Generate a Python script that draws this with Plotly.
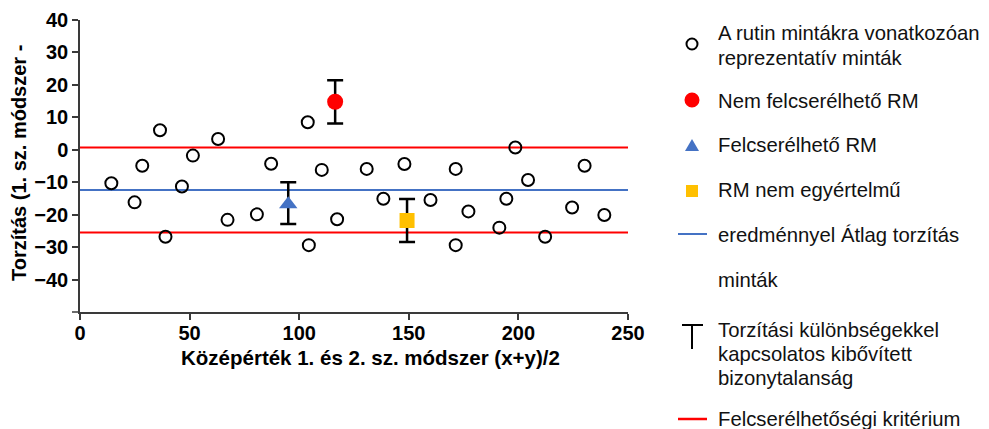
import plotly.graph_objects as go

W, H = 989, 429
OFF = 8  # page body margin of the browser

# ---- data ----
sample_x = [14.3, 24.9, 28.4, 36.5, 39.0, 46.5, 51.5, 63.0, 67.3, 80.7, 87.2, 103.9, 104.4, 110.3, 117.3,
            130.8, 138.4, 148.0, 159.9, 171.4, 171.4, 177.2, 191.3, 194.5, 198.6, 204.4, 212.2, 224.5, 230.2, 239.2]
sample_y = [-10.3, -16.2, -4.9, 6.0, -26.8, -11.3, -1.8, 3.3, -21.6, -19.9, -4.3, 8.5, -29.4, -6.2, -21.4,
            -5.9, -15.1, -4.4, -15.5, -5.9, -29.4, -19.0, -24.0, -15.1, 0.7, -9.3, -26.8, -17.8, -4.9, -20.1]

nonexch_x = [116.4]
nonexch_y = [14.8]
nonexch_err_plus = [6.6]
nonexch_err_minus = [6.7]

exch_x = [95.0]
exch_y = [-16.8]
exch_err_plus = [6.8]
exch_err_minus = [6.1]

ambig_x = [149.2]
ambig_y = [-21.8]
ambig_err_plus = [6.6]
ambig_err_minus = [6.6]

mean_bias = -12.4
crit_upper = 0.7
crit_lower = -25.5
x_span = [0, 250]

x_ticks = [0, 50, 100, 150, 200, 250]
y_ticks = [-40, -30, -20, -10, 0, 10, 20, 30, 40]

legend_lines = [
    ("A rutin mintákra vonatkozóan", 33),
    ("reprezentatív minták", 58),
    ("Nem felcserélhető RM", 101),
    ("Felcserélhető RM", 145),
    ("RM nem egyértelmű", 190),
    ("eredménnyel Átlag torzítás", 235),
    ("minták", 280),
    ("Torzítási különbségekkel", 330),
    ("kapcsolatos kibővített", 354),
    ("bizonytalanság", 378),
    ("Felcserélhetőségi kritérium", 419),
]

FONT = "Liberation Sans"
RED = "#FF0000"
BLUE = "#4472C4"
ORANGE = "#FFC000"

FW, FH = W - OFF, H - OFF


def px(x):
    return (x - OFF) / FW


def py(y):
    return 1 - (y - OFF) / FH


fig = go.Figure()

# reference lines
fig.add_trace(go.Scatter(x=x_span, y=[crit_upper, crit_upper], mode="lines",
                         line=dict(color=RED, width=2), hoverinfo="skip"))
fig.add_trace(go.Scatter(x=x_span, y=[crit_lower, crit_lower], mode="lines",
                         line=dict(color=RED, width=2), hoverinfo="skip"))
fig.add_trace(go.Scatter(x=x_span, y=[mean_bias, mean_bias], mode="lines",
                         line=dict(color=BLUE, width=2), hoverinfo="skip"))

# samples
fig.add_trace(go.Scatter(x=sample_x, y=sample_y, mode="markers",
                         marker=dict(symbol="circle-open", size=12, color="black",
                                     line=dict(width=2, color="black"))))

err_style = dict(type="data", color="black", thickness=2.5, width=8, symmetric=False)

fig.add_trace(go.Scatter(x=nonexch_x, y=nonexch_y, mode="markers",
                         marker=dict(symbol="circle", size=16, color=RED),
                         error_y=dict(array=nonexch_err_plus, arrayminus=nonexch_err_minus, **err_style)))
fig.add_trace(go.Scatter(x=exch_x, y=exch_y, mode="markers",
                         marker=dict(symbol="triangle-up", size=16, color=BLUE),
                         error_y=dict(array=exch_err_plus, arrayminus=exch_err_minus, **err_style)))
fig.add_trace(go.Scatter(x=ambig_x, y=ambig_y, mode="markers",
                         marker=dict(symbol="square", size=15, color=ORANGE),
                         error_y=dict(array=ambig_err_plus, arrayminus=ambig_err_minus, **err_style)))

axis_common = dict(showline=True, linecolor="#3a3a3a", linewidth=1.5, ticks="outside",
                   ticklen=6, tickwidth=1.5, tickcolor="#3a3a3a", showgrid=False, zeroline=False,
                   tickfont=dict(family=FONT, size=20, color="black", weight="bold"),
                   automargin=False, fixedrange=True)

fig.update_layout(
    width=FW, height=FH,
    margin=dict(l=0, r=0, t=0, b=0),
    paper_bgcolor="white", plot_bgcolor="white",
    showlegend=False,
    xaxis=dict(domain=[px(80), px(628)], range=x_span, tickvals=x_ticks, ticklabelstandoff=-4,
               **axis_common),
    yaxis=dict(domain=[py(312), py(20)], range=[-50, 40], tickvals=y_ticks, **axis_common),
)

annotations = []
# axis titles
annotations.append(dict(text="Középérték 1. és 2. sz. módszer (x+y)/2", xref="paper", yref="paper",
                        x=px(370), y=py(357), showarrow=False, xanchor="center", yanchor="middle",
                        font=dict(family=FONT, size=20.5, color="black", weight="bold")))
annotations.append(dict(text="Torzítás (1. sz. módszer -", xref="paper", yref="paper",
                        x=px(19), y=py(163), showarrow=False, textangle=-90,
                        xanchor="center", yanchor="middle",
                        font=dict(family=FONT, size=20, color="black", weight="bold")))
for txt, yy in legend_lines:
    annotations.append(dict(text=txt, xref="paper", yref="paper", x=px(716), y=py(yy),
                            showarrow=False, xanchor="left", yanchor="middle",
                            font=dict(family=FONT, size=20.3, color="#111111")))
fig.update_layout(annotations=annotations)

shapes = []
# small extension of x-axis line left of 0
shapes.append(dict(type="line", xref="paper", yref="paper", x0=px(72), x1=px(80), y0=py(312), y1=py(312),
                   line=dict(color="#3a3a3a", width=1.5)))
# legend symbols
cx = 692
shapes.append(dict(type="circle", xref="paper", yref="paper", x0=px(cx - 5.5), x1=px(cx + 5.5),
                   y0=py(44 + 5.5), y1=py(44 - 5.5), line=dict(color="black", width=2)))
shapes.append(dict(type="circle", xref="paper", yref="paper", x0=px(cx - 7.5), x1=px(cx + 7.5),
                   y0=py(100 + 7.5), y1=py(100 - 7.5), fillcolor=RED, line=dict(color=RED, width=0)))
tri = f"M {px(cx-7)},{py(151)} L {px(cx+7)},{py(151)} L {px(cx)},{py(139)} Z"
shapes.append(dict(type="path", xref="paper", yref="paper", path=tri, fillcolor=BLUE,
                   line=dict(color=BLUE, width=0)))
shapes.append(dict(type="rect", xref="paper", yref="paper", x0=px(cx - 6), x1=px(cx + 6),
                   y0=py(191 + 6), y1=py(191 - 6), fillcolor=ORANGE, line=dict(color=ORANGE, width=0)))
shapes.append(dict(type="line", xref="paper", yref="paper", x0=px(678), x1=px(707), y0=py(234), y1=py(234),
                   line=dict(color=BLUE, width=2)))
shapes.append(dict(type="line", xref="paper", yref="paper", x0=px(682), x1=px(703), y0=py(325), y1=py(325),
                   line=dict(color="black", width=2)))
shapes.append(dict(type="line", xref="paper", yref="paper", x0=px(692), x1=px(692), y0=py(325), y1=py(349),
                   line=dict(color="black", width=2)))
shapes.append(dict(type="line", xref="paper", yref="paper", x0=px(678), x1=px(707), y0=py(419), y1=py(419),
                   line=dict(color=RED, width=2.5)))
fig.update_layout(shapes=shapes)

fig.write_html("out.html")
